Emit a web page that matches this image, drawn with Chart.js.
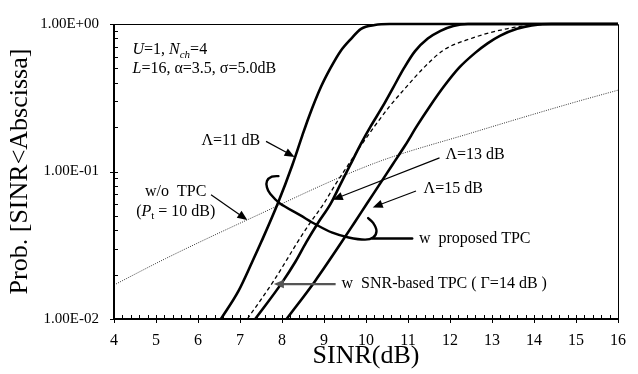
<!DOCTYPE html>
<html>
<head>
<meta charset="utf-8">
<script src="https://cdn.jsdelivr.net/npm/chart.js@4.4.1/dist/chart.umd.min.js"></script>
<style>
html,body{margin:0;padding:0;background:#fff;}
canvas{display:block;}
</style>
</head>
<body>
<canvas id="c" width="638" height="374"></canvas>
<script>
// ---------------- data ----------------
const xTickValues = [4, 5, 6, 7, 8, 9, 10, 11, 12, 13, 14, 15, 16];
const yTickLabels = ['1.00E-02', '1.00E-01', '1.00E+00'];

// proposed TPC, Λ=11 dB
const lam11X = [6.545, 6.965, 7.292, 7.502, 7.899, 8.249, 8.483, 8.646, 8.926, 9.160, 9.393, 9.650, 9.883, 10.21, 10.56, 16];
const lam11Y = [0.01, 0.01551, 0.02444, 0.0331, 0.06065, 0.1112, 0.1751, 0.2371, 0.3736, 0.5057, 0.6544, 0.7968, 0.927, 0.9849, 1.0, 1.0];

// proposed TPC, Λ=13 dB
const lam13X = [7.362, 7.992, 8.319, 8.576, 8.856, 9.160, 9.393, 9.627, 9.860, 10.117, 10.397, 10.654, 10.911, 11.168, 11.471, 11.774, 12.078, 12.428, 16];
const lam13Y = [0.01, 0.01751, 0.02444, 0.0331, 0.04479, 0.06065, 0.0821, 0.1112, 0.1505, 0.2037, 0.2760, 0.3736, 0.5057, 0.6544, 0.7968, 0.899, 0.970, 1.0, 1.0];

// proposed TPC, Λ=15 dB
const lam15X = [8.109, 8.786, 9.416, 9.720, 10.023, 10.327, 10.630, 10.934, 11.214, 11.518, 11.844, 12.218, 12.592, 12.895, 13.199, 13.596, 13.946, 14.413, 16];
const lam15Y = [0.01, 0.01806, 0.0331, 0.04479, 0.06065, 0.0821, 0.1112, 0.1505, 0.2037, 0.2760, 0.3736, 0.5057, 0.6347, 0.7385, 0.8338, 0.927, 0.9775, 1.0, 1.0];

// SNR-based TPC (Γ=14 dB)
const snrX = [7.175, 7.798, 8.226, 8.366, 8.669, 8.996, 9.276, 9.580, 9.883, 10.210, 10.560, 10.957, 11.377, 11.844, 12.498, 13.128, 13.595, 14.179, 14.41, 16];
const snrY = [0.01, 0.01806, 0.02845, 0.0331, 0.04479, 0.06065, 0.0821, 0.1112, 0.1505, 0.2037, 0.2760, 0.3736, 0.5057, 0.6644, 0.7968, 0.899, 0.9557, 0.9924, 1.0, 1.0];

// w/o TPC (Pt = 10 dB)
const noTpcX = [4, 5.23, 7.18, 10.21, 12.55, 14.88, 16];
const noTpcY = [0.017, 0.0257, 0.0471, 0.114, 0.184, 0.29, 0.356];

// ---------------------------------------------------------------
const SERIF = '"Liberation Serif", "Times New Roman", serif';
const pts = (xs, ys) => xs.map((v, i) => ({x: v, y: ys[i]}));

function isDecade(v) {
  const l = Math.log10(v);
  return Math.abs(l - Math.round(l)) < 1e-6;
}
function decadeLabel(v) {
  const idx = Math.round(Math.log10(v)) + 2;
  return yTickLabels[idx] !== undefined ? yTickLabels[idx] : '';
}

function solid(data) {
  return {data, borderColor: '#000', borderWidth: 2.6, pointRadius: 0,
          cubicInterpolationMode: 'monotone', fill: false, clip: 3};
}

// rich text helper
function drawRich(ctx, segs, x, y, size, align) {
  const fontFor = s => `${s.i ? 'italic ' : ''}${s.sub ? Math.round(size * 0.68) : size}px ${SERIF}`;
  let total = 0;
  segs.forEach(s => { ctx.font = fontFor(s); total += ctx.measureText(s.t).width; });
  let cx = align === 'center' ? x - total / 2 : x;
  ctx.fillStyle = '#000';
  ctx.textAlign = 'left';
  ctx.textBaseline = 'middle';
  segs.forEach(s => {
    ctx.font = fontFor(s);
    ctx.fillText(s.t, cx, y + (s.sub ? size * 0.28 : 0));
    cx += ctx.measureText(s.t).width;
  });
}

function arrow(ctx, x1, y1, x2, y2, color, lw, head) {
  const ang = Math.atan2(y2 - y1, x2 - x1);
  const hl = head || 9, hw = (head || 9) * 0.42;
  ctx.strokeStyle = color; ctx.fillStyle = color; ctx.lineWidth = lw;
  ctx.beginPath();
  ctx.moveTo(x1, y1);
  ctx.lineTo(x2 - Math.cos(ang) * hl * 0.8, y2 - Math.sin(ang) * hl * 0.8);
  ctx.stroke();
  ctx.beginPath();
  ctx.moveTo(x2, y2);
  ctx.lineTo(x2 - Math.cos(ang) * hl + Math.sin(ang) * hw, y2 - Math.sin(ang) * hl - Math.cos(ang) * hw);
  ctx.lineTo(x2 - Math.cos(ang) * hl - Math.sin(ang) * hw, y2 - Math.sin(ang) * hl + Math.cos(ang) * hw);
  ctx.closePath();
  ctx.fill();
}

function spline(ctx, p) {
  ctx.beginPath();
  ctx.moveTo(p[0][0], p[0][1]);
  for (let i = 0; i < p.length - 1; i++) {
    const p0 = p[Math.max(i - 1, 0)], p1 = p[i], p2 = p[i + 1], p3 = p[Math.min(i + 2, p.length - 1)];
    ctx.bezierCurveTo(p1[0] + (p2[0] - p0[0]) / 6, p1[1] + (p2[1] - p0[1]) / 6,
                      p2[0] - (p3[0] - p1[0]) / 6, p2[1] - (p3[1] - p1[1]) / 6,
                      p2[0], p2[1]);
  }
  ctx.stroke();
}

// annotation anchors in data units (SINR dB, probability)
const loopPath = [[7.915, 0.0931], [7.759, 0.0923], [7.642, 0.0863], [7.642, 0.0781], [7.719, 0.0706],
                  [7.953, 0.0607], [8.42, 0.0508], [8.81, 0.0437], [9.199, 0.0385], [9.587, 0.0357],
                  [9.977, 0.0345], [10.17, 0.0357], [10.25, 0.0395], [10.17, 0.0448], [10.05, 0.0483]];

const framePlugin = {
  id: 'frameAndNotes',
  afterDatasetsDraw(chart) {
    const {ctx, chartArea: a, scales: {x, y}} = chart;
    const X = v => x.getPixelForValue(v);
    const Y = v => y.getPixelForValue(v);
    ctx.save();
    ctx.strokeStyle = '#000';
    // thin top & right border
    ctx.lineWidth = 1;
    ctx.beginPath();
    ctx.moveTo(a.left, Math.round(a.top) + 0.5);
    ctx.lineTo(Math.round(a.right) + 0.5, Math.round(a.top) + 0.5);
    ctx.lineTo(Math.round(a.right) + 0.5, a.bottom);
    ctx.stroke();
    // thick left & bottom axes
    ctx.lineWidth = 2;
    ctx.beginPath();
    ctx.moveTo(a.left, a.top);
    ctx.lineTo(a.left, a.bottom);
    ctx.lineTo(a.right + 1, a.bottom);
    ctx.stroke();
    // x ticks (inside; majors cross the axis)
    ctx.lineWidth = 1;
    ctx.beginPath();
    for (let i = 0; i <= 60; i++) {
      const v = 4 + i * 0.2;
      const px = Math.round(X(v)) + 0.5;
      const major = i % 5 === 0;
      ctx.moveTo(px, a.bottom - 4);
      ctx.lineTo(px, a.bottom + (major ? 4 : 0));
    }
    // y ticks
    for (let e = -2; e <= 0; e++) {
      for (let m = 1; m <= 9; m++) {
        const v = m * Math.pow(10, e);
        if (v > 1.0001) break;
        const py = Math.round(Y(v)) + 0.5;
        ctx.moveTo(a.left + 4, py);
        ctx.lineTo(a.left - (m === 1 ? 4 : 0), py);
      }
    }
    ctx.stroke();

    // ---------------- annotations ----------------
    const fs = 16;
    drawRich(ctx, [{t: 'U', i: 1}, {t: '=1, '}, {t: 'N', i: 1}, {t: 'ch', i: 1, sub: 1}, {t: '=4'}],
             X(4.44), Y(0.6645), fs, 'left');
    drawRich(ctx, [{t: 'L', i: 1}, {t: '=16, \u03b1=3.5, \u03c3=5.0dB'}],
             X(4.44), Y(0.498), fs, 'left');

    // Λ=11 dB
    drawRich(ctx, [{t: '\u039b=11 dB'}], X(6.78), Y(0.1624), fs, 'center');
    arrow(ctx, X(7.62), Y(0.160), X(8.30), Y(0.1256), '#000', 1.2, 10);

    // w/o TPC
    drawRich(ctx, [{t: 'w/o  TPC'}], X(5.47), Y(0.0728), fs, 'center');
    drawRich(ctx, [{t: '('}, {t: 'P', i: 1}, {t: 't', sub: 1}, {t: ' = 10 dB)'}], X(5.47), Y(0.0537), fs, 'center');
    arrow(ctx, X(6.31), Y(0.0695), X(7.175), Y(0.0469), '#000', 1.2, 10);

    // Λ=13 dB
    drawRich(ctx, [{t: '\u039b=13 dB'}], X(11.89), Y(0.1294), fs, 'left');
    arrow(ctx, X(11.75), Y(0.1236), X(9.21), Y(0.0644), '#000', 1.2, 10);

    // Λ=15 dB
    drawRich(ctx, [{t: '\u039b=15 dB'}], X(11.37), Y(0.0761), fs, 'left');
    arrow(ctx, X(11.19), Y(0.0738), X(10.16), Y(0.0571), '#000', 1.2, 10);

    // proposed TPC loop
    ctx.strokeStyle = '#000';
    ctx.lineWidth = 2.4;
    ctx.lineCap = 'round';
    spline(ctx, loopPath.map(q => [X(q[0]), Y(q[1])]));
    ctx.beginPath();
    ctx.moveTo(X(10.15), Y(0.0351));
    ctx.lineTo(X(11.10), Y(0.0351));
    ctx.stroke();
    ctx.lineCap = 'butt';
    drawRich(ctx, [{t: 'w  proposed TPC'}], X(11.26), Y(0.0351), fs, 'left');

    // SNR-based TPC
    arrow(ctx, X(9.277), Y(0.01726), X(7.806), Y(0.01726), '#555', 2.2, 10);
    drawRich(ctx, [{t: 'w  SNR-based TPC ( \u0393=14 dB )'}], X(9.417), Y(0.01726), fs, 'left');

    ctx.restore();
  }
};

new Chart(document.getElementById('c'), {
  type: 'line',
  data: {
    datasets: [
      {...solid(pts(lam11X, lam11Y)), label: '\u039b=11 dB'},
      {...solid(pts(lam13X, lam13Y)), label: '\u039b=13 dB'},
      {...solid(pts(lam15X, lam15Y)), label: '\u039b=15 dB'},
      {data: pts(snrX, snrY), label: 'w SNR-based TPC', borderColor: '#000', borderWidth: 1.3,
       borderDash: [4, 3], pointRadius: 0, cubicInterpolationMode: 'monotone', fill: false, clip: 3},
      {data: pts(noTpcX, noTpcY), label: 'w/o TPC', borderColor: '#333', borderWidth: 1,
       borderDash: [1, 1.3], pointRadius: 0, cubicInterpolationMode: 'monotone', fill: false, clip: 3}
    ]
  },
  options: {
    responsive: false,
    devicePixelRatio: 1,
    animation: false,
    layout: {padding: {top: 15, right: 10, left: 0, bottom: 0}},
    plugins: {legend: {display: false}, tooltip: {enabled: false}},
    scales: {
      x: {
        type: 'linear', min: 4, max: 16,
        afterBuildTicks: s => { s.ticks = xTickValues.map(v => ({value: v})); },
        ticks: {autoSkip: false, maxRotation: 0, padding: 12, color: '#000',
                font: {family: SERIF, size: 16}, callback: v => String(v)},
        grid: {display: false, drawTicks: false},
        border: {display: false},
        title: {display: true, text: 'SINR(dB)', color: '#000', font: {family: SERIF, size: 26},
                padding: {top: 0, bottom: 2}},
        afterFit: s => { s.height = 55; }
      },
      y: {
        type: 'logarithmic', min: 0.01, max: 1,
        ticks: {autoSkip: false, padding: 15, color: '#000', font: {family: SERIF, size: 15},
                callback: v => isDecade(v) ? decadeLabel(v) : ''},
        grid: {display: false, drawTicks: false},
        border: {display: false},
        title: {display: true, text: 'Prob. [SINR<Abscissa]', color: '#000', font: {family: SERIF, size: 26},
                padding: {top: 5, bottom: 0}},
        afterFit: s => { s.width = 114; }
      }
    }
  },
  plugins: [framePlugin]
});
</script>
</body>
</html>
